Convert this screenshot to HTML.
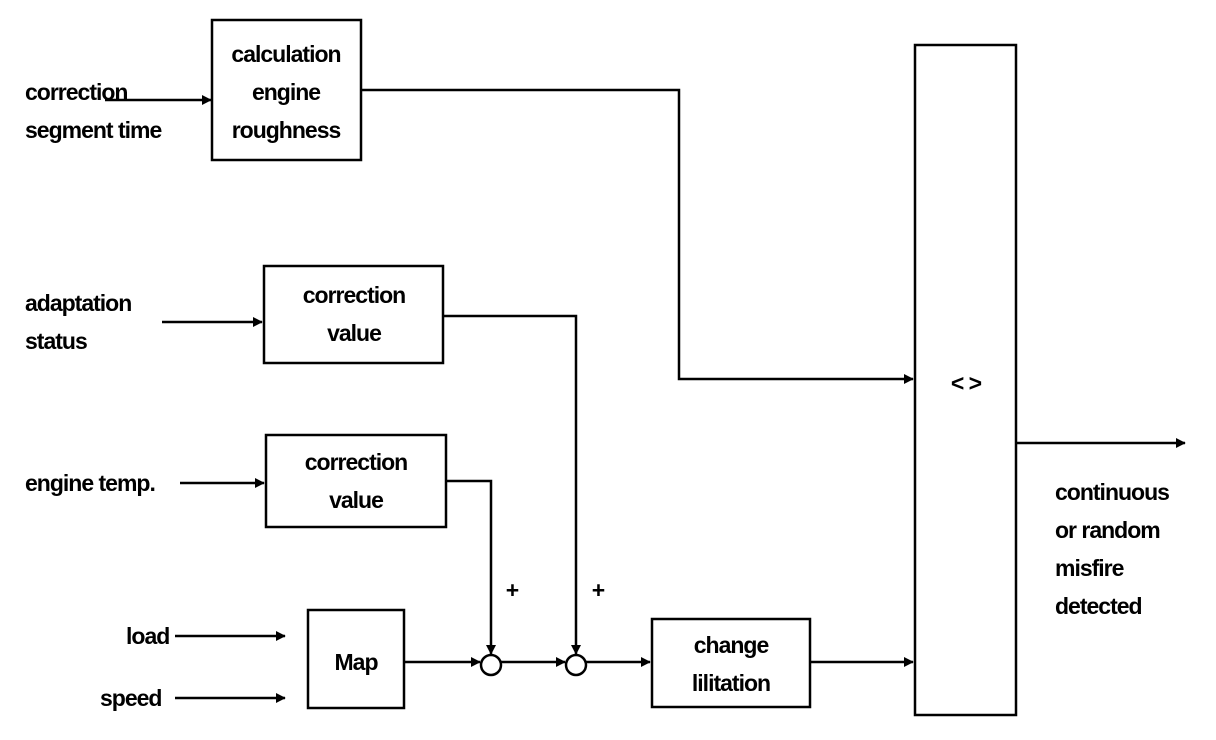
<!DOCTYPE html>
<html><head><meta charset="utf-8"><style>
html,body{margin:0;padding:0;background:#fff;}
svg{display:block}
text{font-family:"Liberation Sans",Arial,sans-serif;font-weight:bold;font-size:23px;fill:#000;letter-spacing:-1px}
</style></head><body>
<svg width="1216" height="740" viewBox="0 0 1216 740" xmlns="http://www.w3.org/2000/svg">
<defs><marker id="a" markerWidth="10" markerHeight="10" refX="9" refY="5" orient="auto" markerUnits="userSpaceOnUse">
<path d="M0,0 L14,5 L0,10 Z" transform="scale(0.7,1)" fill="#000"/></marker></defs>
<g stroke="#000" stroke-width="2.5" fill="none">
<rect x="212" y="20" width="149" height="140"/>
<rect x="915" y="45" width="101" height="670"/>
<rect x="264" y="266" width="179" height="97"/>
<rect x="266" y="435" width="180" height="92"/>
<rect x="308" y="610" width="96" height="98"/>
<rect x="652" y="619" width="158" height="88"/>
<circle cx="491" cy="665" r="10"/>
<circle cx="576" cy="665" r="10"/>
</g>
<g stroke="#000" stroke-width="2.5" fill="none" marker-end="url(#a)">
<path d="M105,100 H211"/>
<path d="M361,90 H679 V379 H913"/>
<path d="M1016,443 H1185"/>
<path d="M162,322 H262"/>
<path d="M443,316 H576 V654"/>
<path d="M180,483 H264"/>
<path d="M446,481 H491 V654"/>
<path d="M175,636 H285"/>
<path d="M175,698 H285"/>
<path d="M404,662 H480"/>
<path d="M501,662 H565"/>
<path d="M586,662 H650"/>
<path d="M810,662 H913"/>
</g>
<text x="25" y="100">correction</text>
<text x="25" y="138">segment time</text>
<text x="286" y="62" text-anchor="middle">calculation</text>
<text x="286" y="100" text-anchor="middle">engine</text>
<text x="286" y="138" text-anchor="middle">roughness</text>
<text x="25" y="311">adaptation</text>
<text x="25" y="349">status</text>
<text x="354" y="303" text-anchor="middle">correction</text>
<text x="354" y="341" text-anchor="middle">value</text>
<text x="25" y="491">engine temp.</text>
<text x="356" y="470" text-anchor="middle">correction</text>
<text x="356" y="508" text-anchor="middle">value</text>
<text x="126" y="644">load</text>
<text x="100" y="706">speed</text>
<text x="356" y="670" text-anchor="middle">Map</text>
<text x="512" y="598" text-anchor="middle">+</text>
<text x="598" y="598" text-anchor="middle">+</text>
<text x="731" y="653" text-anchor="middle">change</text>
<text x="731" y="691" text-anchor="middle">lilitation</text>
<text x="966" y="391" text-anchor="middle">&lt; &gt;</text>
<text x="1055" y="500">continuous</text>
<text x="1055" y="538">or random</text>
<text x="1055" y="576">misfire</text>
<text x="1055" y="614">detected</text>
</svg>
</body></html>
